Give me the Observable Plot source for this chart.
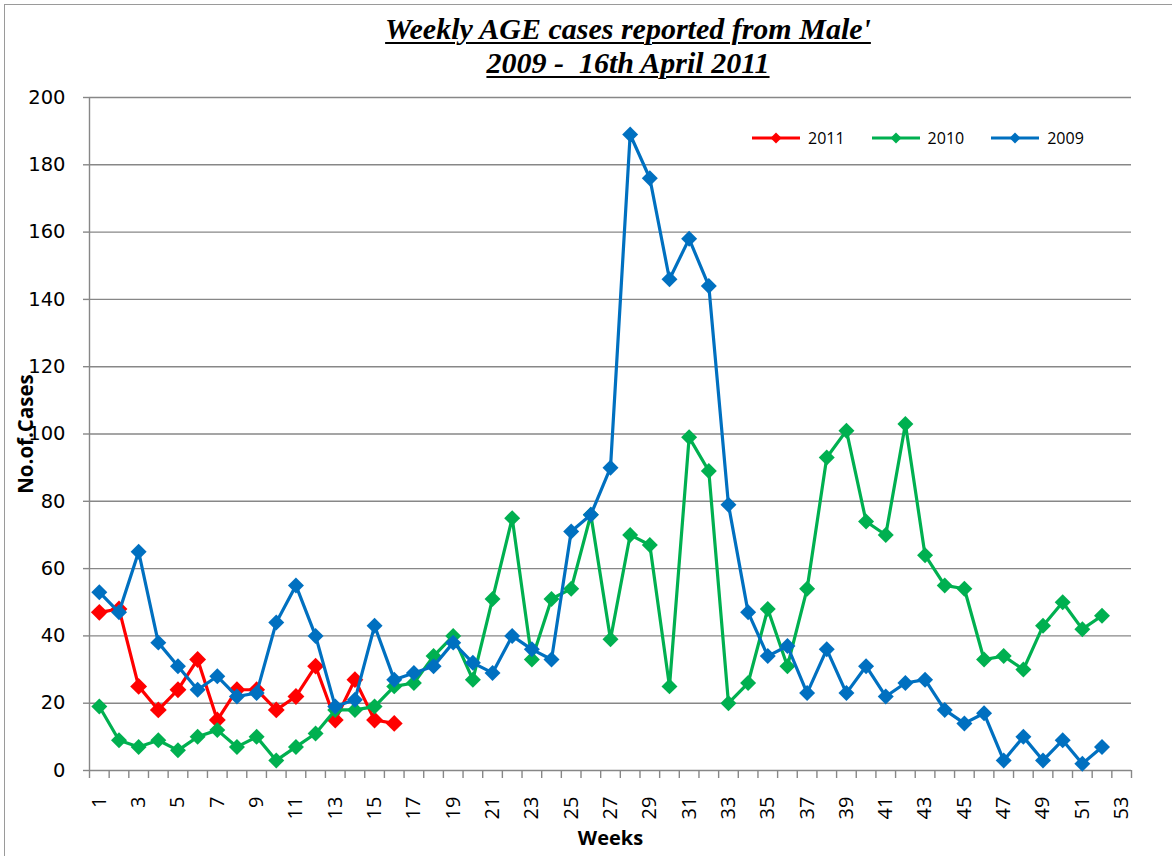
<!DOCTYPE html>
<html>
<head>
<meta charset="utf-8">
<script src="https://cdn.jsdelivr.net/npm/d3@7"></script>
<script src="https://cdn.jsdelivr.net/npm/@observablehq/plot@0.6"></script>
<style>
  html, body { margin: 0; padding: 0; background: #fff; }
  #wrap { position: relative; width: 1172px; height: 856px; overflow: hidden; background: #fff; }
  #frame { position: absolute; left: 4px; top: 4px; width: 1180px; height: 900px; border: 1.5px solid #9a9a9a; box-sizing: border-box; pointer-events: none; }
  #title { position: absolute; left: 0; top: 12px; width: 1256px; text-align: center;
           font-family: "Liberation Serif", "Times New Roman", serif; font-weight: bold; font-style: italic;
           font-size: 30px; line-height: 34px; white-space: pre; color: #000; }
  #title span { text-decoration: underline; text-decoration-thickness: 2px; text-underline-offset: 3px; }
  #legend { position: absolute; left: 752px; top: 127px; display: flex; align-items: center;
            font-family: "Open Sans", sans-serif; font-size: 16px; color: #000; }
  .item { display: flex; align-items: center; margin-right: 27px; }
  .item svg { display: block; }
  .item span { margin-left: 8px; }
  #chart { position: absolute; left: 0; top: 0; }
</style>
</head>
<body>
<div id="wrap">
  <div id="chart"></div>
  <div id="title"><span>Weekly AGE cases reported from Male'</span>
<span>2009 -  16th April 2011</span></div>
  <div id="legend"></div>
  <div id="frame"></div>
</div>
<script>
// ---- data ----
const series = ["2011", "2010", "2009"];
const colors = ["#FF0000", "#00B050", "#0070C0"];

const cases2011 = [47, 48, 25, 18, 24, 33, 15, 24, 24, 18, 22, 31, 15, 27, 15, 14];
const cases2010 = [19, 9, 7, 9, 6, 10, 12, 7, 10, 3, 7, 11, 18, 18, 19, 25, 26, 34, 40, 27,
                   51, 75, 33, 51, 54, 76, 39, 70, 67, 25, 99, 89, 20, 26, 48, 31, 54, 93, 101, 74,
                   70, 103, 64, 55, 54, 33, 34, 30, 43, 50, 42, 46];
const cases2009 = [53, 47, 65, 38, 31, 24, 28, 22, 23, 44, 55, 40, 19, 21, 43, 27, 29, 31, 38, 32,
                   29, 40, 36, 33, 71, 76, 90, 189, 176, 146, 158, 144, 79, 47, 34, 37, 23, 36, 23, 31,
                   22, 26, 27, 18, 14, 17, 3, 10, 3, 9, 2, 7];

const xTickLabels = [1, 3, 5, 7, 9, 11, 13, 15, 17, 19, 21, 23, 25, 27, 29, 31, 33, 35, 37, 39,
                     41, 43, 45, 47, 49, 51, 53];
const yTicks = [0, 20, 40, 60, 80, 100, 120, 140, 160, 180, 200];
const weekCount = 53;

const toRows = arr => arr.map((v, i) => ({ week: i + 1, cases: v }));
const rows = [toRows(cases2011), toRows(cases2010), toRows(cases2009)];
const boundaries = d3.range(0.5, weekCount + 1, 1);

const gridColor = "#878787";

const marks = [
  Plot.gridY(yTicks.filter(d => d > 0), { stroke: gridColor, strokeOpacity: 1, strokeWidth: 1.4 }),
  Plot.ruleX([0.5], { stroke: gridColor, strokeWidth: 1.4 }),
  Plot.ruleY([0], { stroke: gridColor, strokeWidth: 1.4 }),
  Plot.axisY({ ticks: yTicks, tickSize: 6, tickPadding: 18, stroke: gridColor, strokeWidth: 1.4,
               fill: "#000", label: null, fontSize: 19.5, fontFamily: "DejaVu Sans" }),
  Plot.axisX({ ticks: boundaries, tickSize: 8, stroke: gridColor, strokeWidth: 1.4, tickFormat: () => "", label: null }),
  Plot.axisX({ ticks: xTickLabels, tickSize: 0, tickPadding: 26, tickRotate: -90, fill: "#000", label: null,
               fontSize: 20, fontFamily: "Open Sans" }),
  Plot.text(["Weeks"], { text: d => d, frameAnchor: "bottom", dy: 74, fontFamily: "Open Sans",
               fontWeight: "bold", fontSize: 20, fill: "#000" }),
  Plot.text(["No.of.Cases"], { text: d => d, frameAnchor: "left", textAnchor: "middle", dx: -63, rotate: -90,
               fontFamily: "Open Sans", fontWeight: "bold", fontSize: 20.5, fill: "#000" })
];

series.forEach((s, i) => {
  marks.push(Plot.line(rows[i], { x: "week", y: "cases", stroke: colors[i], strokeWidth: 3.2 }));
  marks.push(Plot.dot(rows[i], { x: "week", y: "cases", symbol: "diamond2", r: i === 0 ? 7.6 : 7.2,
                                 fill: colors[i], stroke: "none" }));
});

const chart = Plot.plot({
  width: 1172,
  height: 856,
  marginLeft: 89,
  marginRight: 41,
  marginTop: 97,
  marginBottom: 86,
  x: { type: "linear", domain: [0.5, weekCount + 0.5] },
  y: { type: "linear", domain: [0, 200] },
  style: { background: "transparent", overflow: "visible" },
  marks
});
document.getElementById("chart").appendChild(chart);

// legend
const legend = document.getElementById("legend");
series.forEach((s, i) => {
  const item = document.createElement("div");
  item.className = "item";
  item.innerHTML = `<svg width="48" height="14"><line x1="0" y1="7" x2="48" y2="7" stroke="${colors[i]}" stroke-width="3"/>` +
    `<path d="M24,1.5 L29.5,7 L24,12.5 L18.5,7 Z" fill="${colors[i]}"/></svg><span>${s}</span>`;
  legend.appendChild(item);
});
</script>
</body>
</html>
